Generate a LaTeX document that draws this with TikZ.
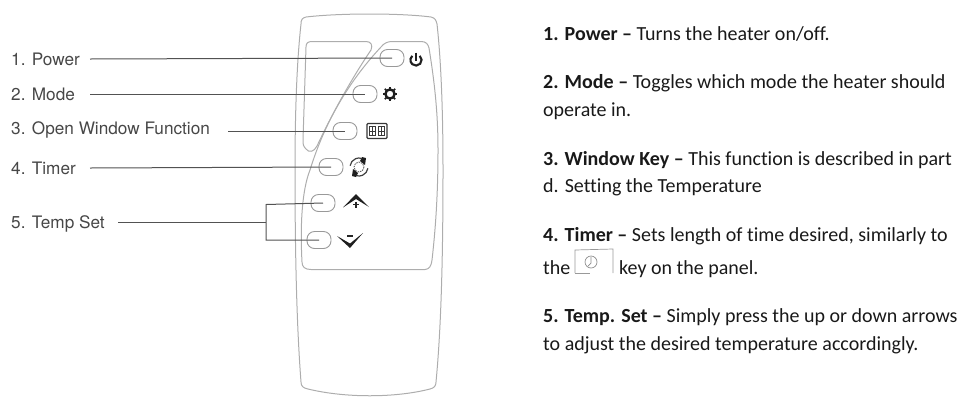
\documentclass[tikz,border=0pt]{standalone}
\usepackage{fontspec}
\setmainfont[Ligatures=NoCommon]{Carlito}
\newfontfamily\leftfont{TeX Gyre Heros}
\usetikzlibrary{arrows.meta}
\tikzset{
  rtext/.style={anchor=base west,inner sep=0pt,font=\fontsize{20}{24}\selectfont,text=black!90},
  ltext/.style={anchor=base west,inner sep=0pt,font=\leftfont\fontsize{17.2}{20}\selectfont,text=black!72},
  outline/.style={draw=black!32,line width=1pt,line join=round},
  btn/.style={draw=black!40,line width=.9pt,rounded corners=7.5pt,minimum width=24pt,minimum height=17pt,inner sep=0pt,fill=white},
  leader/.style={draw=black!68,line width=1pt},
  icon/.style={draw=black!88,line width=1.5pt},
}
\begin{document}
\begin{tikzpicture}[x=1pt,y=-1pt]
\useasboundingbox (0,0) rectangle (966,408);
% body
\draw[outline] (306,17) .. controls (340,13) and (400,13) .. (431,17)
  .. controls (435,18) and (436,20) .. (437,24)
  .. controls (441,60) and (443,110) .. (443,170)
  .. controls (443,260) and (441,330) .. (436,382)
  .. controls (436,386) and (434,388) .. (430,389)
  .. controls (395,398) and (345,398) .. (308,389)
  .. controls (303,388) and (301,386) .. (301,382)
  .. controls (297,330) and (295,260) .. (295,170)
  .. controls (295,110) and (297,60) .. (301,24)
  .. controls (301,20) and (302,18) .. (306,17) -- cycle;
% display
\draw[outline] (312,41.5) -- (366,41.5) .. controls (371,41.5) and (373,45) .. (371,50)
  .. controls (352,78) and (333,112) .. (317,146)
  .. controls (314,152) and (309,153) .. (306,149)
  .. controls (303,146) and (303,144) .. (303,140)
  -- (306,47) .. controls (306,43) and (308,41.5) .. (312,41.5) -- cycle;
% key panel
\draw[outline] (392,41.5) -- (421,41.5) .. controls (426,41.5) and (428,44) .. (429,48)
  .. controls (435,85) and (438,115) .. (438,150)
  .. controls (438,190) and (436,225) .. (432,260)
  .. controls (431,267) and (429,269) .. (425,269.5)
  -- (311,269.5) .. controls (305,269.5) and (302,267) .. (302,262)
  .. controls (300,225) and (302,190) .. (310,170)
  .. controls (326,118) and (352,78) .. (381,47)
  .. controls (384,43) and (388,41.5) .. (392,41.5) -- cycle;
% buttons
\node[btn] (b1) at (392,58) {};
\node[btn] (b2) at (365,94) {};
\node[btn] (b3) at (345,131) {};
\node[btn] (b4) at (331,167) {};
\node[btn] (b5) at (323,203) {};
\node[btn] (b6) at (319,240) {};
% labels
\node[ltext] (l1) at (11,65) {1. Power};
\node[ltext] (l2) at (11,100) {2. Mode};
\node[ltext] (l3) at (11,134) {3. Open Window Function};
\node[ltext] (l4) at (11,174) {4. Timer};
\node[ltext] (l5) at (11,228) {5. Temp Set};
\coordinate (s1) at (90,59);
\coordinate (s2) at (90,94);
\coordinate (s3) at (228,131);
\coordinate (s4) at (90,168);
\coordinate (s5) at (118,222);
\coordinate (j) at (266,222);
\coordinate (jt) at (266,204.5);
\coordinate (jb) at (266,240);
\draw[leader] (s1) -- (b1.center);
\draw[leader] (s2) -- (b2.center);
\draw[leader] (s3) -- (b3.center);
\draw[leader] (s4) -- (b4.center);
\draw[leader] (s5) -- (j);
\draw[leader] (b5.center) -- (jt) -- (jb) -- (b6.center);
% power icon
\draw[icon,line width=2.1pt] (416,60) ++(-48:5.6) arc[start angle=-48,end angle=228,radius=5.6];
\draw[icon,line width=1.8pt] (416,52.5) -- (416,60.5);
% mode icon
\node (imode) at (390,94) {};
\draw[icon,line width=2.4pt] (imode.center) circle[radius=4.6];
\foreach \a in {0,45,...,315} \draw[icon,line width=1.6pt] (imode.center) ++(\a:5.2) -- ++(\a:2.2);
% window icon
\node[draw=black!78,line width=1.1pt,rounded corners=1pt,minimum width=20pt,minimum height=15pt,inner sep=0pt] (iwin) at (377,131) {};
\draw[black!78,line width=.9pt] (369.8,126.5) rectangle (375.8,135.5) (378.2,126.5) rectangle (384.2,135.5);
\draw[black!78,line width=.9pt] (369.8,131) -- (375.8,131) (378.2,131) -- (384.2,131) (372.8,126.5) -- (372.8,135.5) (381.2,126.5) -- (381.2,135.5);
% timer icon
\node (itim) at (359,167) {};
\draw[black!70,line width=.8pt,dash pattern=on 1.5pt off 1pt] (itim.center) circle[radius=5];
\draw[black!75,line width=1.2pt] (itim.center) ++(-172:9) arc[start angle=-172,end angle=-75,radius=9];
\draw[black!75,line width=1.2pt] (itim.center) ++(8:9) arc[start angle=8,end angle=105,radius=9];
\fill[black!88] (362,157) -- (366,158) -- (365,165) -- (360,161) -- cycle;
\fill[black!88] (356,177) -- (352,176) -- (353,169) -- (358,173) -- cycle;
% up and down
\fill[black!88] (343,207.5) -- (356,194) -- (369,207) -- (356,199) -- cycle;
\draw[black!85,line width=1.1pt] (356,201.5) -- (356,207.5) (353,204.5) -- (359,204.5);
\fill[black!88] (337,236) -- (350,243.5) -- (363,233) -- (350,248) -- cycle;
\draw[black!85,line width=1.1pt] (347,236) -- (353,236);
% right text
\node[rtext] (t1) at (543,40) {\textbf{1. Power –} Turns the heater on/off.};
\node[rtext] (t2) at (543,88) {\textbf{2. Mode –} Toggles which mode the heater should};
\node[rtext] (t2b) at (543,116) {operate in.};
\node[rtext] (t3) at (543,165) {\textbf{3. Window Key –} This function is described in part};
\node[rtext] (t3b) at (543,192) {d. Setting the Temperature};
\node[rtext] (t4) at (543,241) {\textbf{4. Timer –} Sets length of time desired, similarly to};
\node[rtext] (t4b) at (543,274) {the};
\draw[black!40,line width=.7pt] (575,273) -- (575,250) -- (613,249) -- (613,273);
\draw[black!40,line width=.7pt] (575,273) -- (590,273);
\node[draw=black!45,line width=.7pt,circle,minimum size=12pt,inner sep=0pt] (clk) at (591,262) {};
\draw[black!45,line width=.7pt] (591,257) -- (591,263) -- (588,266);
\node[rtext] (t4c) at (619,274) {key on the panel.};
\node[rtext] (t5) at (543,322) {\textbf{5. Temp. Set –} Simply press the up or down arrows};
\node[rtext] (t5b) at (543,350) {to adjust the desired temperature accordingly.};
\end{tikzpicture}
\end{document}
